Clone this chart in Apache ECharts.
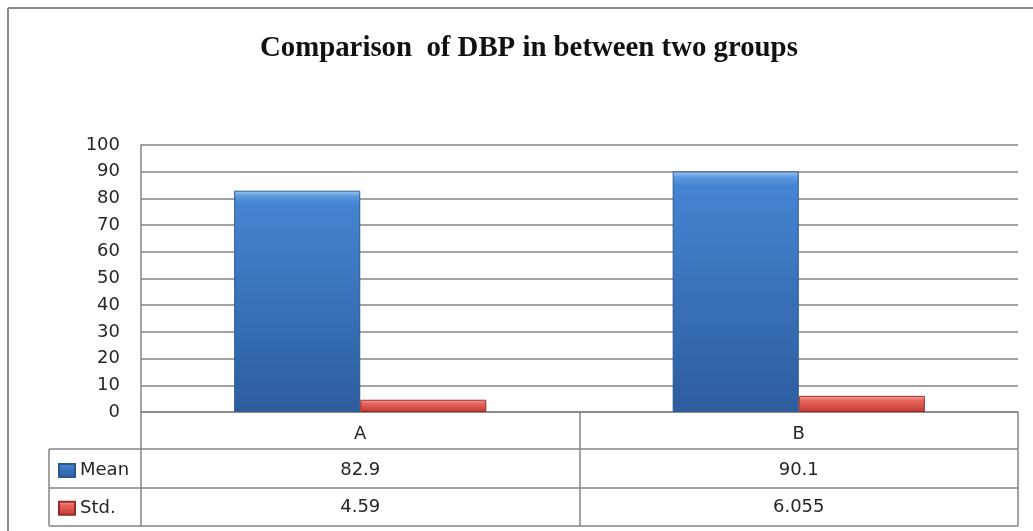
<!DOCTYPE html>
<html>
<head>
<meta charset="utf-8">
<script src="https://cdn.jsdelivr.net/npm/echarts@6/dist/echarts.min.js"></script>
<style>
html,body{margin:0;padding:0;background:#fff;}
#chart{width:1033px;height:531px;}
</style>
</head>
<body>
<div id="chart"></div>
<script>
const categories = ['A', 'B'];
const seriesNames = ['Mean', 'Std.'];
const meanValues = [82.9, 90.1];
const stdValues = [4.59, 6.055];
const meanLabels = ['82.9', '90.1'];
const stdLabels = ['4.59', '6.055'];
const yTicks = [0, 10, 20, 30, 40, 50, 60, 70, 80, 90, 100];

const chart = echarts.init(document.getElementById('chart'), null, {renderer: 'canvas'});

const gridLeft = 141, gridRight = 1018, gridTop = 145, gridBottom = 412;
const rowLines = [449, 488, 526];
const tableLeft = 49;
const lineColor = '#858585';
const textColor = '#262626';
const fontFam = '"DejaVu Sans", Verdana, sans-serif';

const blue = {
  type: 'linear', x: 0, y: 0, x2: 0, y2: 1,
  colorStops: [
    {offset: 0, color: '#A4CBF2'},
    {offset: 0.025, color: '#5C98DF'},
    {offset: 0.06, color: '#4584D2'},
    {offset: 1, color: '#2C5D9E'}
  ]
};
const red = {
  type: 'linear', x: 0, y: 0, x2: 0, y2: 1,
  colorStops: [
    {offset: 0, color: '#F7A9A4'},
    {offset: 0.3, color: '#E8645D'},
    {offset: 1, color: '#C23B35'}
  ]
};

const graphics = [
  {type: 'line', shape: {x1: 8, y1: 8, x2: 1033, y2: 8}, style: {stroke: '#8a8a8a', lineWidth: 2}, z: 0},
  {type: 'line', shape: {x1: 8, y1: 8, x2: 8, y2: 531}, style: {stroke: '#8a8a8a', lineWidth: 2}, z: 0}
];
rowLines.forEach(y => {
  graphics.push({type: 'line', shape: {x1: tableLeft, y1: y, x2: gridRight, y2: y}, style: {stroke: lineColor, lineWidth: 1.5}, z: 10});
});
graphics.push({type: 'line', shape: {x1: tableLeft, y1: rowLines[0], x2: tableLeft, y2: rowLines[2]}, style: {stroke: lineColor, lineWidth: 1.5}, z: 10});

chart.setOption({
  animation: false,
  backgroundColor: '#ffffff',
  title: {
    text: 'Comparison  of DBP in between two groups',
    left: 255,
    top: 29,
    textStyle: {fontFamily: '"Liberation Serif", "Times New Roman", serif', fontWeight: 'bold', fontSize: 28.8, color: '#111'}
  },
  legend: {
    orient: 'vertical',
    left: 53,
    top: 456.5,
    itemWidth: 16,
    itemHeight: 13,
    itemGap: 19.7,
    icon: 'rect',
    data: seriesNames,
    textStyle: {fontFamily: fontFam, fontSize: 18, color: textColor, lineHeight: 18}
  },
  grid: {left: gridLeft, right: 1033 - gridRight, top: gridTop, bottom: 531 - gridBottom, containLabel: false},
  xAxis: {
    type: 'category',
    data: categories,
    axisLine: {show: true, lineStyle: {color: lineColor, width: 1.5}},
    axisTick: {show: true, alignWithLabel: false, length: rowLines[2] - gridBottom, lineStyle: {color: lineColor, width: 1.5}},
    axisLabel: {
      margin: 4,
      fontFamily: fontFam,
      fontSize: 18,
      color: textColor,
      lineHeight: 36.5,
      formatter: (v, i) => v + '\n' + meanLabels[i] + '\n' + stdLabels[i]
    }
  },
  yAxis: {
    type: 'value',
    min: yTicks[0],
    max: yTicks[yTicks.length - 1],
    interval: yTicks[1] - yTicks[0],
    axisLine: {show: true, lineStyle: {color: lineColor, width: 1.5}},
    axisTick: {show: false},
    splitLine: {show: true, lineStyle: {color: lineColor, width: 1.5}},
    axisLabel: {margin: 21, fontFamily: fontFam, fontSize: 18, color: textColor}
  },
  series: [
    {
      name: seriesNames[0], type: 'bar', data: meanValues,
      barGap: '0%', barCategoryGap: '42.5%',
      itemStyle: {color: blue, borderColor: '#2A5891', borderWidth: 1}
    },
    {
      name: seriesNames[1], type: 'bar', data: stdValues,
      barGap: '0%', barCategoryGap: '42.5%',
      itemStyle: {color: red, borderColor: '#9A2A25', borderWidth: 1}
    }
  ],
  graphic: graphics
});
</script>
</body>
</html>
